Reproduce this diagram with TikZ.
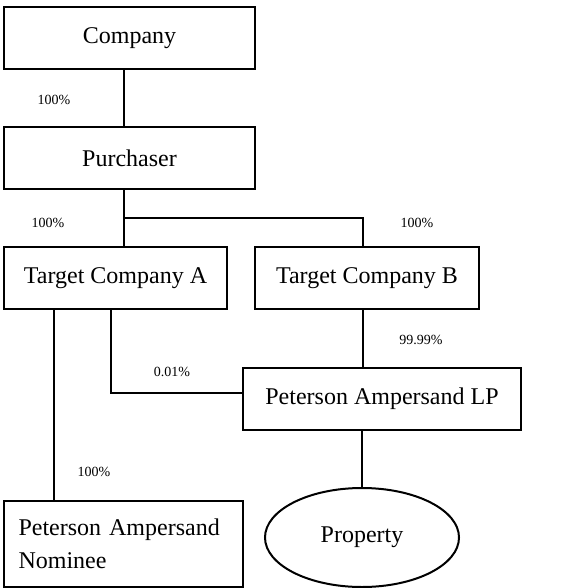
\documentclass[tikz,border=0pt]{standalone}
\usepackage{fontspec}
\setmainfont{Liberation Serif}
\usepackage{tikz}
\usetikzlibrary{shapes.geometric}

\begin{document}
\begin{tikzpicture}[x=0.5pt,y=-0.5pt,line width=1pt,
  entity/.style={draw,rectangle,inner sep=0pt,font=\fontsize{12}{14}\selectfont},
  share/.style={font=\fontsize{7}{8}\selectfont,inner sep=0pt}]
\path[use as bounding box] (0,0) rectangle (587,588);
% boxes
\node[entity,minimum width=125.5pt,minimum height=31pt] (co) at (129.5,38) {Company};
\node[entity,minimum width=125.5pt,minimum height=31pt] (pur) at (129.5,158) {Purchaser};
\node[entity,minimum width=111.5pt,minimum height=31pt] (tca) at (115.5,278) {Target Company A};
\node[entity,minimum width=112pt,minimum height=31pt] (tcb) at (367,278) {Target Company B};
\node[entity,minimum width=139pt,minimum height=31pt] (lp) at (382,399) {Peterson Ampersand LP};
\node[entity,minimum width=119.5pt,minimum height=43pt,text width=105pt,inner xsep=7pt,align=left,
  font=\fontsize{12}{16.5}\selectfont] (nom) at (123.5,544) {Peterson Ampersand\\Nominee};
\node[entity,ellipse,minimum width=97pt,minimum height=49.5pt] (prop) at (362,537.5) {\raisebox{3pt}{Property}};
% connectors
\coordinate (jn) at (124,218);
\coordinate (nomx) at (54,0);
\draw (co.south -| jn) -- (pur.north -| jn);
\draw (pur.south -| jn) -- (tca.north -| jn);
\draw (jn) -| ([xshift=-2pt]tcb.north);
\draw (tca.south -| nomx) -- (nom.north -| nomx);
\draw ([xshift=-2.25pt]tca.south) |- ([yshift=3pt]lp.west);
\draw ([xshift=-2pt]tcb.south) -- ([xshift=-2pt]tcb.south |- lp.north);
\draw (prop.north |- lp.south) -- (prop.north);
% percentages
\node[share] (p1) at (54,100) {100\%};
\node[share] (p2) at (48,223) {100\%};
\node[share] (p3) at (417,223) {100\%};
\node[share] (p4) at (421,340) {99.99\%};
\node[share] (p5) at (172,372) {0.01\%};
\node[share] (p6) at (94,472) {100\%};
\end{tikzpicture}
\end{document}
